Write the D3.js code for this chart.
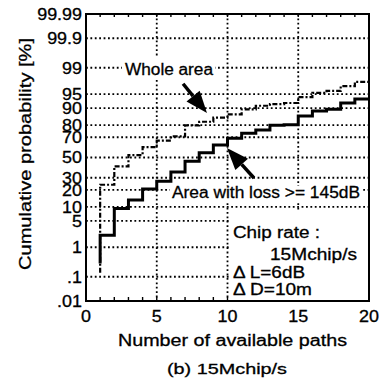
<!DOCTYPE html>
<html>
<head>
<meta charset="utf-8">
<script src="https://cdn.jsdelivr.net/npm/d3@7"></script>
<style>
  body { margin: 0; background: #fff; }
  text { font-family: "Liberation Sans", Arial, Helvetica, sans-serif; fill: #000; stroke: #000; stroke-width: 0.3px; }
</style>
</head>
<body>
<svg id="chart"></svg>
<script>
// cumulative probability vs number of available paths, 15 Mchip/s

const xTicks = [0, 5, 10, 15, 20];
const yTicks = [0.01, 0.1, 1, 5, 10, 20, 30, 50, 70, 80, 90, 95, 99, 99.9, 99.99];
const yTickLabels = [".01", ".1", "1", "5", "10", "20", "30", "50", "70", "80", "90", "95", "99", "99.9", "99.99"];

// horizontal step levels [%] for paths = 1..19 (each level holds until next integer)
const pathCounts = [1, 2, 3, 4, 5, 6, 7, 8, 9, 10, 11, 12, 13, 14, 15, 16, 17, 18, 19];
const wholeStart = 0.14;
const wholeArea = [24, 41, 52.5, 60.5, 67, 70.8, 79.8, 82.3, 84.9, 86.8, 89.4, 91, 91.7, 92.1, 94.1, 95.3, 95.8, 96.8, 97.5];
const lossStart = 0.3;
const lossArea = [2.2, 9.3, 13.5, 20.7, 27, 35.4, 46.2, 55, 62.7, 69, 73.5, 76.2, 79.8, 80.2, 85.9, 88.6, 89.5, 92.1, 93.5];

var margin = {top: 14, right: 14, bottom: 81, left: 86},
width = 383 - margin.left - margin.right,
height = 382 - margin.top - margin.bottom;

const svg = d3.select("#chart")
  .attr("width", 383)
  .attr("height", 382);
const g = svg.append("g").attr("transform", `translate(${margin.left},${margin.top})`);

// inverse normal cdf (Acklam) for the probability axis
function qnorm(p) {
  const a = [-3.969683028665376e+01, 2.209460984245205e+02, -2.759285104469687e+02, 1.383577518672690e+02, -3.066479806614716e+01, 2.506628277459239e+00];
  const b = [-5.447609879822406e+01, 1.615858368580409e+02, -1.556989798598866e+02, 6.680131188771972e+01, -1.328068155288572e+01];
  const c = [-7.784894002430293e-03, -3.223964580411365e-01, -2.400758277161838e+00, -2.549732539343734e+00, 4.374664141464968e+00, 2.938163982698783e+00];
  const d = [7.784695709041462e-03, 3.224671290700398e-01, 2.445134137142996e+00, 3.754408661907416e+00];
  const pl = 0.02425;
  let q, r;
  if (p < pl) {
    q = Math.sqrt(-2 * Math.log(p));
    return (((((c[0]*q+c[1])*q+c[2])*q+c[3])*q+c[4])*q+c[5]) / ((((d[0]*q+d[1])*q+d[2])*q+d[3])*q+1);
  }
  if (p > 1 - pl) {
    q = Math.sqrt(-2 * Math.log(1 - p));
    return -(((((c[0]*q+c[1])*q+c[2])*q+c[3])*q+c[4])*q+c[5]) / ((((d[0]*q+d[1])*q+d[2])*q+d[3])*q+1);
  }
  q = p - 0.5; r = q * q;
  return (((((a[0]*r+a[1])*r+a[2])*r+a[3])*r+a[4])*r+a[5])*q / (((((b[0]*r+b[1])*r+b[2])*r+b[3])*r+b[4])*r+1);
}

const x = d3.scaleLinear().domain([0, 20]).range([0, width]);
const z = d3.scaleLinear().domain([qnorm(0.0001), qnorm(0.9999)]).range([height, 0]);
const y = p => z(qnorm(p / 100));

// grid (dotted)
g.selectAll(".gx").data(xTicks.slice(1, -1)).enter().append("line")
  .attr("x1", d => x(d)).attr("x2", d => x(d)).attr("y1", 0).attr("y2", height)
  .attr("stroke", "#000").attr("stroke-width", 1.8).attr("stroke-dasharray", "1.8,2.6");
g.selectAll(".gy").data(yTicks.slice(1, -1)).enter().append("line")
  .attr("x1", 0).attr("x2", width).attr("y1", d => y(d)).attr("y2", d => y(d))
  .attr("stroke", "#000").attr("stroke-width", 1.8).attr("stroke-dasharray", "1.8,2.6");

// minor ticks along x
g.selectAll(".mt").data(pathCounts).enter().append("line")
  .attr("x1", d => x(d)).attr("x2", d => x(d)).attr("y1", height).attr("y2", height - 4)
  .attr("stroke", "#000").attr("stroke-width", 1.4);
g.selectAll(".mtt").data(pathCounts).enter().append("line")
  .attr("x1", d => x(d)).attr("x2", d => x(d)).attr("y1", 0).attr("y2", 3)
  .attr("stroke", "#000").attr("stroke-width", 1.4);

// white boxes behind annotations
g.append("rect").attr("x", 36).attr("y", 43).attr("width", 93).attr("height", 23).attr("fill", "#fff");
g.append("rect").attr("x", 84).attr("y", 172).attr("width", 192).attr("height", 16).attr("fill", "#fff");
g.append("rect").attr("x", 144).attr("y", 198).attr("width", 139).attr("height", 89).attr("fill", "#fff");

// step curves
const line = d3.line().x(d => x(d[0])).y(d => y(d[1])).curve(d3.curveStepAfter);
function stepPts(start, vals) {
  const pts = [[pathCounts[0], start]];
  vals.forEach((v, i) => pts.push([pathCounts[i], v]));
  pts.push([20, vals[vals.length - 1]]);
  return pts;
}
g.append("path").attr("d", line(stepPts(wholeStart, wholeArea)))
  .attr("fill", "none").attr("stroke", "#000").attr("stroke-width", 2.2)
  .attr("stroke-dasharray", "5,2,2,2");
g.append("path").attr("d", line(stepPts(lossStart, lossArea)))
  .attr("fill", "none").attr("stroke", "#000").attr("stroke-width", 3);

// frame
g.append("rect").attr("width", width).attr("height", height)
  .attr("fill", "none").attr("stroke", "#000").attr("stroke-width", 2);

// y tick labels (scan is a bit wide, so stretch horizontally)
g.selectAll(".yl").data(yTicks).enter().append("text")
  .attr("transform", d => `translate(-4,${y(d)}) scale(1.12,1)`)
  .attr("dy", "0.36em")
  .attr("text-anchor", "end").style("font-size", "16px")
  .text((d, i) => yTickLabels[i]);

// x tick labels
g.selectAll(".xl").data(xTicks).enter().append("text")
  .attr("transform", d => `translate(${x(d)},${height + 21}) scale(1.12,1)`)
  .attr("text-anchor", "middle").style("font-size", "16px")
  .text(d => d);

// axis titles
svg.append("text").attr("transform", "translate(31,154) rotate(-90)")
  .attr("text-anchor", "middle").style("font-size", "16px")
  .attr("textLength", 232).attr("lengthAdjust", "spacingAndGlyphs")
  .text("Cumulative probability [%]");
svg.append("text").attr("x", 118).attr("y", 346)
  .style("font-size", "16px")
  .attr("textLength", 229).attr("lengthAdjust", "spacingAndGlyphs")
  .text("Number of available paths");
svg.append("text").attr("x", 167).attr("y", 374)
  .style("font-size", "15.5px")
  .attr("textLength", 120).attr("lengthAdjust", "spacingAndGlyphs")
  .text("(b) 15Mchip/s");

// annotations
function note(tx, ty, len, str) {
  g.append("text").attr("x", tx).attr("y", ty)
    .style("font-size", "16px")
    .attr("textLength", len).attr("lengthAdjust", "spacingAndGlyphs")
    .text(str);
}
note(39, 61, 88, "Whole area");
note(86, 184, 188, "Area with loss >= 145dB");
note(147, 224, 87, "Chip rate :");
note(184, 246, 87, "15Mchip/s");
note(147, 264, 72, "\u0394 L=6dB");
note(147, 281, 79, "\u0394 D=10m");

// arrows, in data coordinates [paths, %]
const arrows = [
  {from: [6.86, 97.2], to: [8.55, 87.5]},
  {from: [11.87, 29.8], to: [9.96, 59.7]}
];
arrows.forEach(a => {
  const x0 = x(a.from[0]), y0 = y(a.from[1]), x1 = x(a.to[0]), y1 = y(a.to[1]);
  const ang = Math.atan2(y1 - y0, x1 - x0);
  const len = 22, hw = 8.5;
  const bx = x1 - len * Math.cos(ang), by = y1 - len * Math.sin(ang);
  g.append("line").attr("x1", x0).attr("y1", y0).attr("x2", bx).attr("y2", by)
    .attr("stroke", "#000").attr("stroke-width", 3.5);
  const px = -Math.sin(ang), py = Math.cos(ang);
  g.append("path")
    .attr("d", `M${x1},${y1}L${bx + px * hw},${by + py * hw}L${bx - px * hw},${by - py * hw}Z`)
    .attr("fill", "#000");
});
</script>
</body>
</html>
